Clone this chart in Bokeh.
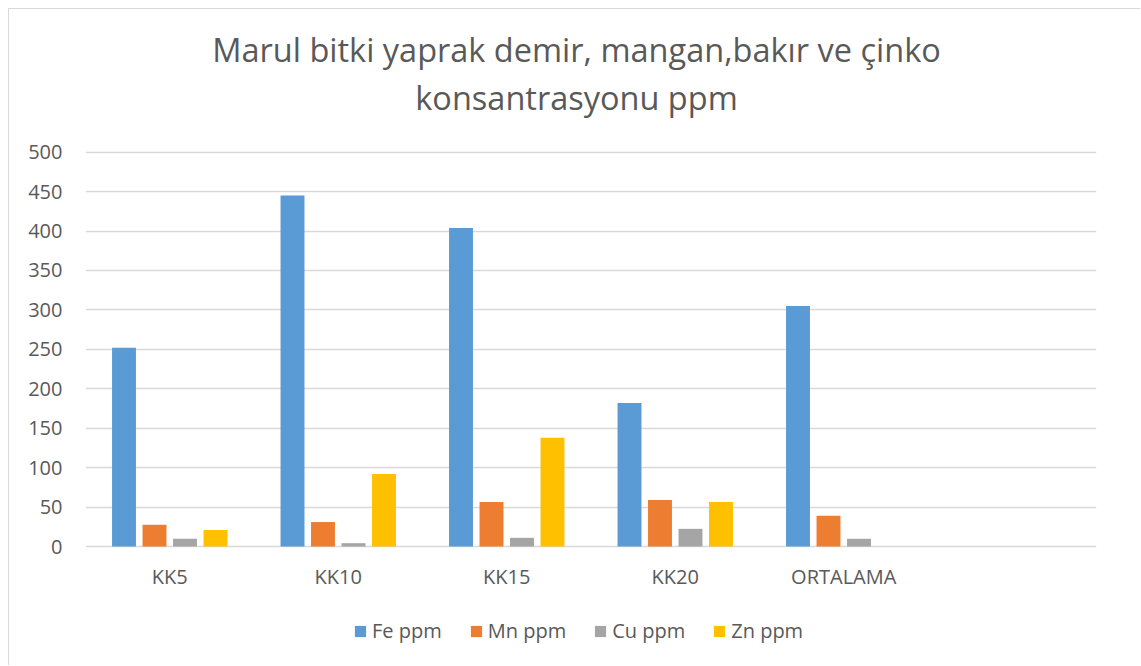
from bokeh.plotting import figure
from bokeh.models import ColumnDataSource, FactorRange, Legend, LegendItem, Label, Range1d
from bokeh.transform import dodge
from bokeh.embed import file_html
from bokeh.resources import INLINE

categories = ["KK5", "KK10", "KK15", "KK20", "ORTALAMA"]
axis_slots = categories + [" "]
fe_ppm = [252, 445, 404, 182, 305]
mn_ppm = [27.5, 31, 56.5, 59, 39]
cu_ppm = [9.8, 4.2, 11, 22.4, 9.8]
zn_ppm = [21, 92, 138, 56.5, 0]
series_names = ["Fe ppm", "Mn ppm", "Cu ppm", "Zn ppm"]
series_cols = ["fe", "mn", "cu", "zn"]
colors = ["#5B9BD5", "#ED7D31", "#A5A5A5", "#FFC000"]
y_ticks = [0, 50, 100, 150, 200, 250, 300, 350, 400, 450, 500]
title_lines = ["Marul bitki yaprak demir, mangan,bakır ve çinko", "konsantrasyonu ppm"]

FONT = "Open Sans"
TXT = "#595959"

# frame spans the whole chart height; value axis 0..500 occupies the middle band
W, H = 1132, 657
TOP_PX, ZERO_PX, FULL_PX = 151.7 - 9, 546 - 9, H   # positions inside the figure
upp = 500.0 / (ZERO_PX - TOP_PX)
y_hi = 500 + TOP_PX * upp
y_lo = -(FULL_PX - ZERO_PX) * upp

src = ColumnDataSource(dict(cat=categories, fe=fe_ppm, mn=mn_ppm, cu=cu_ppm, zn=zn_ppm))

p = figure(width=W, height=H, x_range=FactorRange(factors=axis_slots),
           y_range=Range1d(y_lo, y_hi), output_backend="svg", toolbar_location=None,
           min_border_left=76, min_border_right=45, min_border_top=0, min_border_bottom=0,
           styles={"margin-left": "8px", "margin-top": "8px",
                   "border-left": "1px solid #d9d9d9", "border-top": "1px solid #d9d9d9"})
p.outline_line_color = None
p.x_range.range_padding = 0
p.x_range.group_padding = 0

offsets = [-0.2715, -0.0905, 0.0905, 0.2715]
renderers = []
for col, off, c in zip(series_cols, offsets, colors):
    r = p.vbar(x=dodge("cat", off, range=p.x_range), top=col, width=0.142, bottom=0,
               source=src, fill_color=c, line_color=None)
    renderers.append(r)

p.xgrid.grid_line_color = None
p.ygrid.grid_line_color = "#d9d9d9"
p.ygrid.grid_line_width = 1.3
p.yaxis.ticker = y_ticks
p.xaxis.fixed_location = 0
for ax in (p.xaxis, p.yaxis):
    ax.axis_line_color = None
    ax.major_tick_line_color = None
    ax.minor_tick_line_color = None
    ax.major_tick_out = 0
    ax.major_tick_in = 0
    ax.major_label_text_font = FONT
    ax.major_label_text_font_size = "20px"
    ax.major_label_text_color = TXT
p.yaxis.major_label_standoff = 23
p.xaxis.major_label_standoff = 16

legend = Legend(items=[LegendItem(label=n, renderers=[r]) for n, r in zip(series_names, renderers)],
                orientation="horizontal", location=(268, 22), padding=0, margin=0,
                border_line_color=None, background_fill_alpha=0,
                glyph_width=14, glyph_height=14, label_standoff=5, spacing=27,
                label_text_font=FONT, label_text_font_size="20px", label_text_color=TXT)
p.add_layout(legend, "center")

for txt, base in zip(title_lines, (49, 97)):
    p.add_layout(Label(x=576 - 85, y=H + 9 - base, x_units="screen", y_units="screen", text=txt,
                       text_align="center", text_baseline="alphabetic",
                       text_font=FONT, text_font_size="32.5px", text_color=TXT))

open("out.html", "w").write(file_html(p, INLINE))
